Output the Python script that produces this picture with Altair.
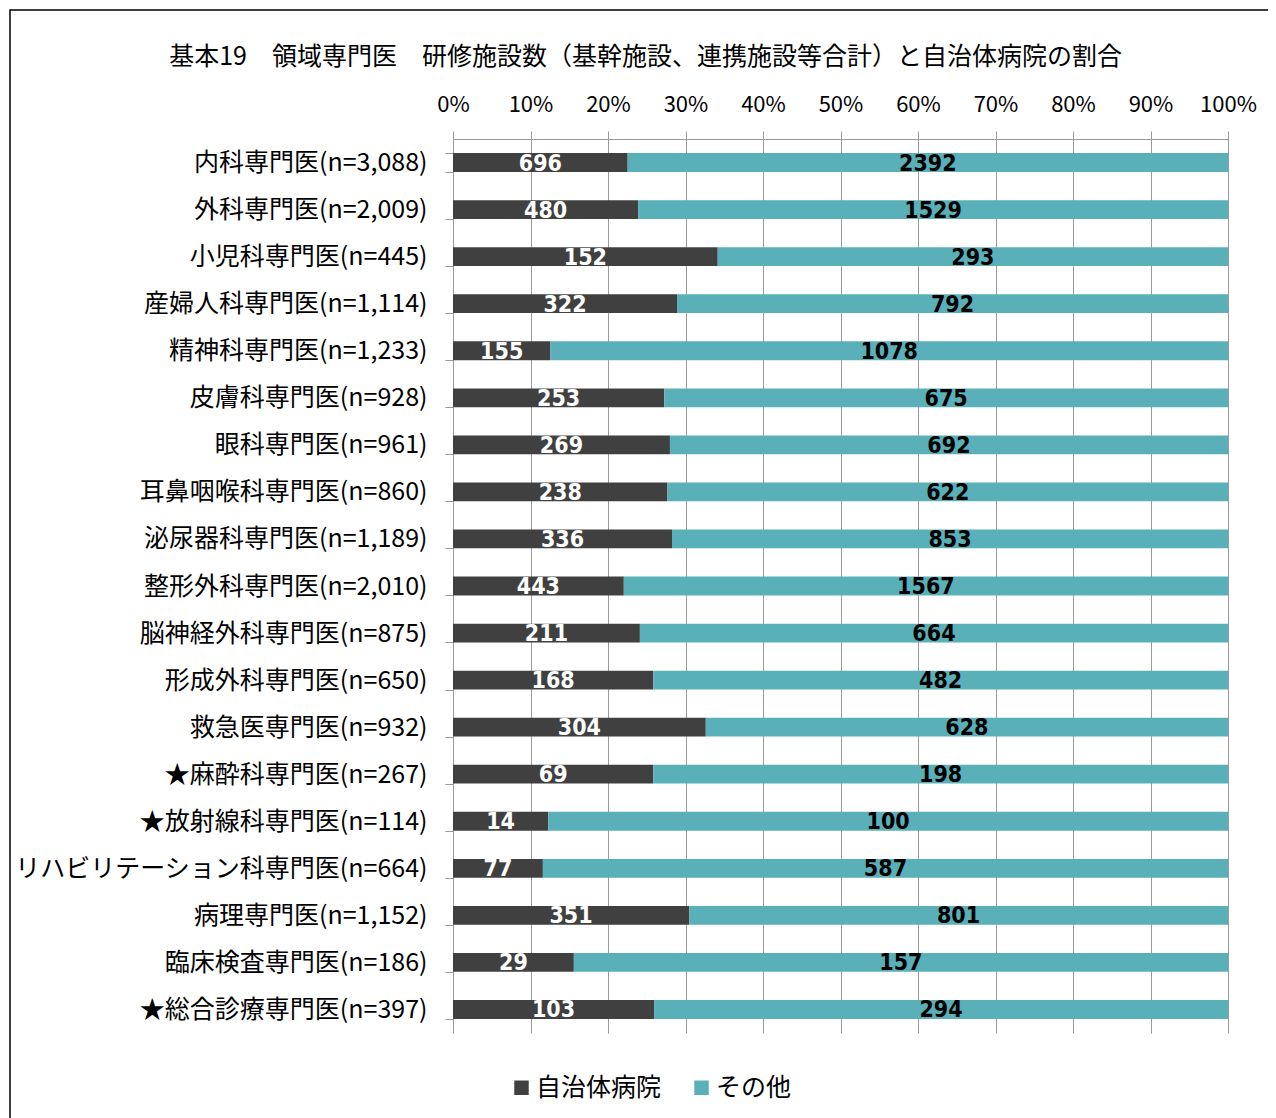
import altair as alt
import pandas as pd

categories = [
    "内科専門医(n=3,088)", "外科専門医(n=2,009)", "小児科専門医(n=445)",
    "産婦人科専門医(n=1,114)", "精神科専門医(n=1,233)", "皮膚科専門医(n=928)",
    "眼科専門医(n=961)", "耳鼻咽喉科専門医(n=860)", "泌尿器科専門医(n=1,189)",
    "整形外科専門医(n=2,010)", "脳神経外科専門医(n=875)", "形成外科専門医(n=650)",
    "救急医専門医(n=932)", "★麻酔科専門医(n=267)", "★放射線科専門医(n=114)",
    "リハビリテーション科専門医(n=664)", "病理専門医(n=1,152)", "臨床検査専門医(n=186)",
    "★総合診療専門医(n=397)",
]
municipal = [696, 480, 152, 322, 155, 253, 269, 238, 336, 443, 211, 168, 304, 69, 14, 77, 351, 29, 103]
other = [2392, 1529, 293, 792, 1078, 675, 692, 622, 853, 1567, 664, 482, 628, 198, 100, 587, 801, 157, 294]
series = ["自治体病院", "その他"]
colors = ["#404040", "#5AB0B8"]
title_text = "基本19　領域専門医　研修施設数（基幹施設、連携施設等合計）と自治体病院の割合"

rows = []
for c, a, b in zip(categories, municipal, other):
    tot = a + b
    rows.append({"cat": c, "series": series[0], "v": a, "start": 0.0, "end": a / tot})
    rows.append({"cat": c, "series": series[1], "v": b, "start": a / tot, "end": 1.0})
df = pd.DataFrame(rows)
df["mid"] = (df["start"] + df["end"]) / 2

JP = "Noto Sans CJK JP"
GRID = "#9a9a9a"
y_enc = alt.Y("cat:N", sort=categories, title=None,
              scale=alt.Scale(paddingInner=0.6, paddingOuter=0.3),
              axis=alt.Axis(labelFont=JP, labelFontSize=25, labelColor="#000000",
                            labelPadding=18, tickSize=8, tickBand="extent",
                            domainColor=GRID, tickColor=GRID, labelLimit=500))

bars = alt.Chart(df).mark_bar().encode(
    x=alt.X("start:Q", scale=alt.Scale(domain=[0, 1]), title=None,
            axis=alt.Axis(orient="top", format="%", values=[i / 10 for i in range(11)],
                          labelFont=JP, labelFontSize=22, labelColor="#000000",
                          labelPadding=15, labelFlush=False, labelOverlap=False,
                          tickSize=8, grid=True, gridColor=GRID,
                          domainColor=GRID, tickColor=GRID)),
    x2="end:Q",
    y=y_enc,
    color=alt.Color("series:N", sort=series,
                    scale=alt.Scale(domain=series, range=colors),
                    legend=alt.Legend(title=None, orient="none", direction="horizontal",
                                      legendX=56, legendY=936, symbolType="square",
                                      symbolSize=210, symbolStrokeWidth=0,
                                      labelFont=JP, labelFontSize=25, labelColor="#000000",
                                      columnPadding=27, padding=0, labelOffset=2)),
)

labels = alt.Chart(df).mark_text(font="DejaVu Sans Condensed", fontWeight="bold",
                                 fontSize=23, baseline="middle", dy=1).encode(
    x="mid:Q",
    y=alt.Y("cat:N", sort=categories),
    text="v:Q",
    color=alt.Color("series:N", sort=series,
                    scale=alt.Scale(domain=series, range=["#ffffff", "#000000"]),
                    legend=None),
)

frame = alt.Chart(alt.Data(values=[{"k": 1}])).mark_rect(
    fill=None, stroke="#000000", strokeWidth=1.5, clip=False
).encode(x=alt.value(-443), x2=alt.value(900), y=alt.value(-129), y2=alt.value(1200))

chart = alt.layer(frame, bars, labels).resolve_scale(color="independent").properties(
    width=775, height=894,
    autosize=alt.AutoSizeParams(type="none"),
    padding={"left": 445, "top": 131, "right": 40, "bottom": 110},
    title=alt.TitleParams(title_text, font=JP, fontSize=25, fontWeight="normal",
                          color="#000000", anchor="middle", frame="group",
                          dx=-195, offset=-61),
).configure_view(stroke=None)

chart.save("out.html", embed_options={"renderer": "svg", "actions": False})
